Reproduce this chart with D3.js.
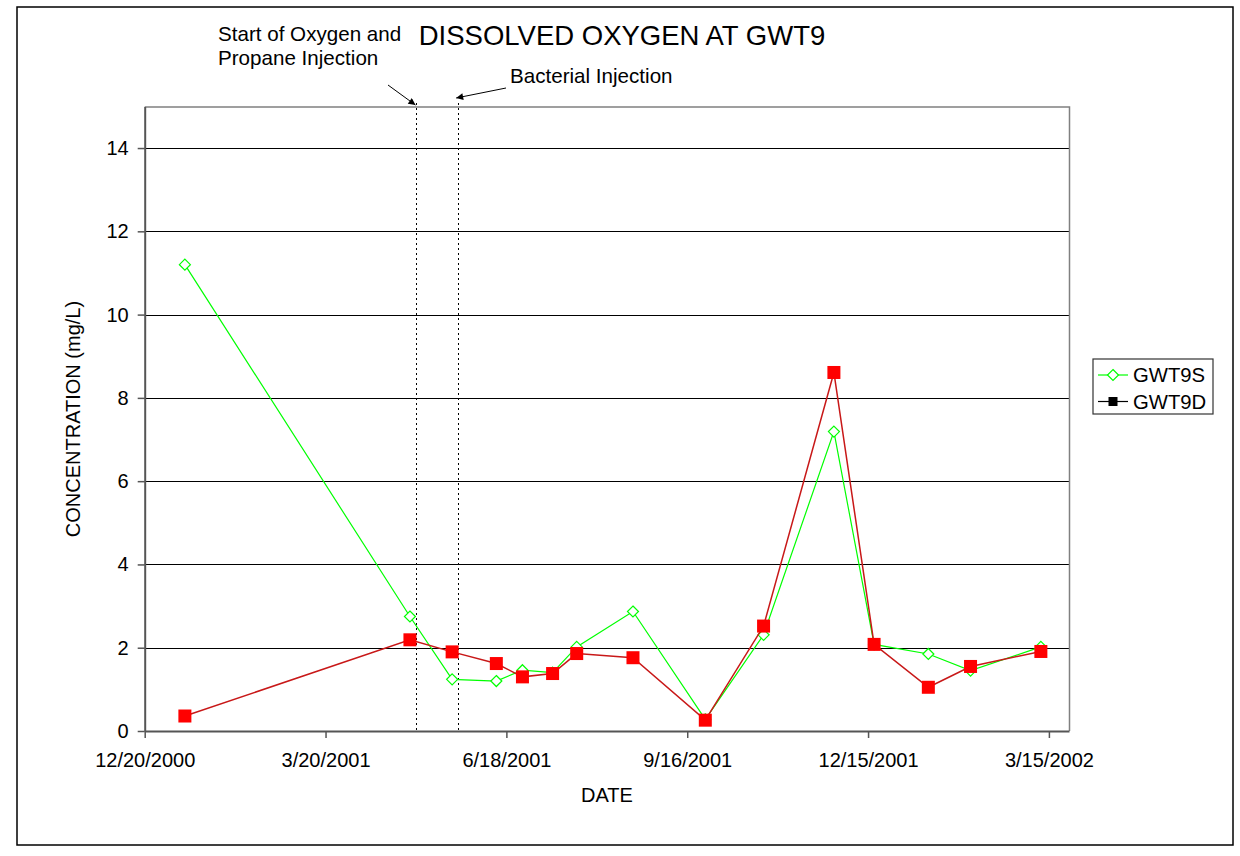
<!DOCTYPE html>
<html>
<head>
<meta charset="utf-8">
<script src="https://cdnjs.cloudflare.com/ajax/libs/d3/7.8.5/d3.min.js"></script>
<style>
  body { margin: 0; background: #fff; }
  text { font-family: 'Liberation Sans', Arial, sans-serif; fill: #000; }
</style>
</head>
<body>
<script>
// sampling dates (m/d/yyyy)
let dates = ['1/9/2001', '5/1/2001', '5/22/2001', '6/13/2001', '6/26/2001', '7/11/2001', '7/23/2001',
             '8/20/2001', '9/25/2001', '10/24/2001', '11/28/2001', '12/18/2001', '1/14/2002', '2/4/2002', '3/11/2002'];
let gwt9s = [11.2, 2.75, 1.24, 1.2, 1.46, 1.4, 2.02, 2.87, 0.28, 2.31, 7.19, 2.08, 1.85, 1.45, 2.02];
let gwt9d = [0.36, 2.19, 1.9, 1.62, 1.3, 1.38, 1.86, 1.76, 0.26, 2.52, 8.61, 2.08, 1.05, 1.55, 1.91];
let tickLabels = ['12/20/2000', '3/20/2001', '6/18/2001', '9/16/2001', '12/15/2001', '3/15/2002'];
let yTicks = [0, 2, 4, 6, 8, 10, 12, 14];
let events = [
  {'date': '5/4/2001', 'label': ['Start of Oxygen and', 'Propane Injection']},
  {'date': '5/25/2001', 'label': ['Bacterial Injection']}
];

let parse = d3.utcParse('%m/%d/%Y');

let svg = d3.select('body').append('svg').attr('width', 1240).attr('height', 856);

// outer chart frame
svg.append('rect').attr('x', 17).attr('y', 7).attr('width', 1216).attr('height', 838)
   .attr('fill', 'none').attr('stroke', '#000').attr('stroke-width', 1.5);

let pLeft = 144.7, pRight = 1069, pTop = 106.4, pBottom = 731;

let x = d3.scaleUtc().domain([parse('12/20/2000'), parse('3/25/2002')]).range([pLeft, pRight]);
let y = d3.scaleLinear().domain([0, 15]).range([pBottom, pTop]);

// gridlines
svg.append('g').selectAll('line').data(yTicks.filter(d => d > 0)).enter().append('line')
   .attr('x1', pLeft).attr('x2', pRight)
   .attr('y1', d => Math.round(y(d)) + 0.5).attr('y2', d => Math.round(y(d)) + 0.5)
   .attr('stroke', '#000').attr('stroke-width', 1);

// plot border (top / right)
svg.append('path')
   .attr('d', 'M' + pLeft + ',' + (pTop + 0.5) + 'H' + (pRight + 0.5) + 'V' + pBottom)
   .attr('fill', 'none').attr('stroke', '#808080').attr('stroke-width', 1.5);

// axes
let xAxis = d3.axisBottom(x).tickValues(tickLabels.map(parse)).tickFormat((d, i) => tickLabels[i])
              .tickSizeOuter(0).tickSizeInner(7).tickPadding(15);
let gx = svg.append('g').attr('transform', 'translate(0,' + pBottom + ')').call(xAxis);
gx.selectAll('text').attr('font-size', '20px').attr('font-family', 'Liberation Sans, Arial, sans-serif').attr('fill', '#000');
gx.selectAll('line').attr('stroke', '#555').attr('stroke-width', 1.5);
gx.select('.domain').attr('stroke', '#555').attr('stroke-width', 2);

let yAxis = d3.axisLeft(y).tickValues(yTicks).tickSizeOuter(0).tickSizeInner(7).tickPadding(9);
let gy = svg.append('g').attr('transform', 'translate(' + pLeft + ',0)').call(yAxis);
gy.selectAll('text').attr('font-size', '20px').attr('font-family', 'Liberation Sans, Arial, sans-serif').attr('fill', '#000');
gy.selectAll('line').attr('stroke', '#555').attr('stroke-width', 1.5);
gy.select('.domain').attr('stroke', '#555').attr('stroke-width', 2);

// axis titles
svg.append('text').attr('x', 607).attr('y', 802).attr('text-anchor', 'middle')
   .attr('font-size', '20px').text('DATE');
svg.append('text').attr('transform', 'translate(80,419) rotate(-90)').attr('text-anchor', 'middle')
   .attr('font-size', '20px').text('CONCENTRATION (mg/L)');

// title
svg.append('text').attr('x', 622).attr('y', 45).attr('text-anchor', 'middle')
   .attr('font-size', '27.5px').text('DISSOLVED OXYGEN AT GWT9');

// event lines
svg.append('g').selectAll('line').data(events).enter().append('line')
   .attr('x1', d => Math.round(x(parse(d.date))) + 0.5).attr('x2', d => Math.round(x(parse(d.date))) + 0.5)
   .attr('y1', 103).attr('y2', pBottom)
   .attr('stroke', '#000').attr('stroke-width', 1).attr('stroke-dasharray', '2,3');

svg.append('defs').append('marker').attr('id', 'arr').attr('viewBox', '0 0 10 10')
   .attr('refX', 10).attr('refY', 5).attr('markerWidth', 9).attr('markerHeight', 7)
   .attr('markerUnits', 'userSpaceOnUse').attr('orient', 'auto')
   .append('path').attr('d', 'M0,0L10,5L0,10z').attr('fill', '#000');

let ex0 = x(parse(events[0].date)), ex1 = x(parse(events[1].date));
svg.append('line').attr('x1', 388).attr('y1', 85).attr('x2', ex0 - 0.5).attr('y2', 105)
   .attr('stroke', '#000').attr('stroke-width', 1).attr('marker-end', 'url(#arr)');
svg.append('line').attr('x1', 506).attr('y1', 88).attr('x2', ex1 - 2).attr('y2', 98)
   .attr('stroke', '#000').attr('stroke-width', 1).attr('marker-end', 'url(#arr)');

svg.append('text').attr('x', 218).attr('font-size', '20.6px')
   .selectAll('tspan').data(events[0].label).enter().append('tspan')
   .attr('x', 218).attr('y', (d, i) => 40.5 + i * 24).text(d => d);
svg.append('text').attr('x', 510).attr('y', 83).attr('font-size', '20.6px').text(events[1].label[0]);

// series
let sData = dates.map((d, i) => ({'date': parse(d), 'v': gwt9s[i]}));
let dData = dates.map((d, i) => ({'date': parse(d), 'v': gwt9d[i]}));
let line = d3.line().x(d => x(d.date)).y(d => y(d.v));

svg.append('path').datum(sData).attr('d', line).attr('fill', 'none').attr('stroke', '#00ff00').attr('stroke-width', 1.2);
let diamond = 'M0,-5.5L5.5,0L0,5.5L-5.5,0Z';
svg.append('g').selectAll('path').data(sData).enter().append('path')
   .attr('transform', d => 'translate(' + x(d.date) + ',' + y(d.v) + ')')
   .attr('d', diamond).attr('fill', '#fff').attr('stroke', '#00ff00').attr('stroke-width', 1.2);

svg.append('path').datum(dData).attr('d', line).attr('fill', 'none').attr('stroke', '#c81818').attr('stroke-width', 1.5);
svg.append('g').selectAll('rect').data(dData).enter().append('rect')
   .attr('x', d => x(d.date) - 6.5).attr('y', d => y(d.v) - 6.5).attr('width', 13).attr('height', 13)
   .attr('fill', '#ff0000');

// legend
let lg = svg.append('g');
lg.append('rect').attr('x', 1093).attr('y', 359).attr('width', 120).attr('height', 55)
  .attr('fill', '#fff').attr('stroke', '#333').attr('stroke-width', 1.2);
lg.append('line').attr('x1', 1098).attr('x2', 1128).attr('y1', 375).attr('y2', 375).attr('stroke', '#00ff00').attr('stroke-width', 1.2);
lg.append('path').attr('transform', 'translate(1113,375)').attr('d', diamond)
  .attr('fill', '#fff').attr('stroke', '#00ff00').attr('stroke-width', 1.2);
lg.append('text').attr('x', 1133).attr('y', 382).attr('font-size', '20.3px').text('GWT9S');
lg.append('line').attr('x1', 1098).attr('x2', 1128).attr('y1', 401.5).attr('y2', 401.5).attr('stroke', '#000').attr('stroke-width', 1.2);
lg.append('rect').attr('x', 1108.5).attr('y', 397).attr('width', 9).attr('height', 9).attr('fill', '#000');
lg.append('text').attr('x', 1133).attr('y', 408.5).attr('font-size', '20.3px').text('GWT9D');
</script>
</body>
</html>
